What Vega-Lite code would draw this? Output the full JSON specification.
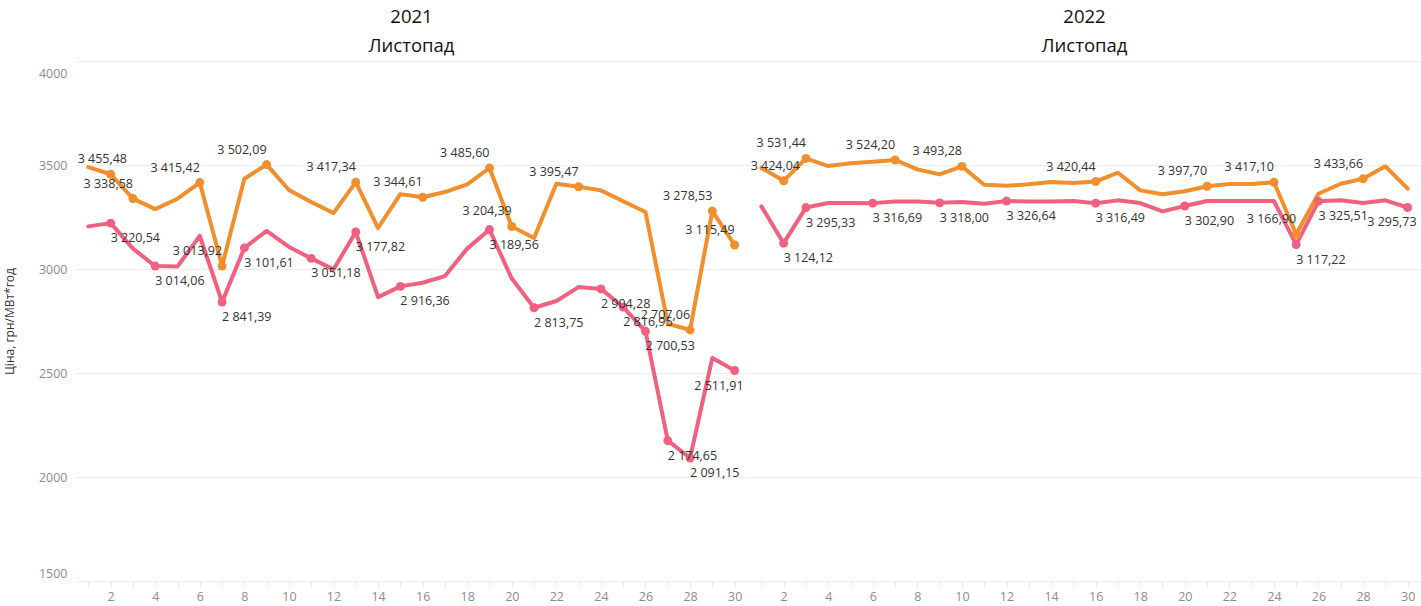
{
  "$schema": "https://vega.github.io/schema/vega-lite/v6.json",
  "padding": {"left": 3, "top": 7, "right": 0, "bottom": 0},
  "background": "white",
  "data": {"values": [
    {"year":"2021","day":1,"s":"B","v":3205,"m":false},
    {"year":"2021","day":2,"s":"B","v":3220.54,"m":true},
    {"year":"2021","day":3,"s":"B","v":3098,"m":false},
    {"year":"2021","day":4,"s":"B","v":3014.06,"m":true},
    {"year":"2021","day":5,"s":"B","v":3012,"m":false},
    {"year":"2021","day":6,"s":"B","v":3159,"m":false},
    {"year":"2021","day":7,"s":"B","v":2841.39,"m":true},
    {"year":"2021","day":8,"s":"B","v":3101.61,"m":true},
    {"year":"2021","day":9,"s":"B","v":3183,"m":false},
    {"year":"2021","day":10,"s":"B","v":3106,"m":false},
    {"year":"2021","day":11,"s":"B","v":3051.18,"m":true},
    {"year":"2021","day":12,"s":"B","v":2998,"m":false},
    {"year":"2021","day":13,"s":"B","v":3177.82,"m":true},
    {"year":"2021","day":14,"s":"B","v":2865,"m":false},
    {"year":"2021","day":15,"s":"B","v":2916.36,"m":true},
    {"year":"2021","day":16,"s":"B","v":2934,"m":false},
    {"year":"2021","day":17,"s":"B","v":2966,"m":false},
    {"year":"2021","day":18,"s":"B","v":3098,"m":false},
    {"year":"2021","day":19,"s":"B","v":3189.56,"m":true},
    {"year":"2021","day":20,"s":"B","v":2954,"m":false},
    {"year":"2021","day":21,"s":"B","v":2813.75,"m":true},
    {"year":"2021","day":22,"s":"B","v":2846,"m":false},
    {"year":"2021","day":23,"s":"B","v":2913,"m":false},
    {"year":"2021","day":24,"s":"B","v":2904.28,"m":true},
    {"year":"2021","day":25,"s":"B","v":2816.95,"m":true},
    {"year":"2021","day":26,"s":"B","v":2700.53,"m":true},
    {"year":"2021","day":27,"s":"B","v":2174.65,"m":true},
    {"year":"2021","day":28,"s":"B","v":2091.15,"m":true},
    {"year":"2021","day":29,"s":"B","v":2572,"m":false},
    {"year":"2021","day":30,"s":"B","v":2511.91,"m":true},
    {"year":"2022","day":1,"s":"B","v":3301,"m":false},
    {"year":"2022","day":2,"s":"B","v":3124.12,"m":true},
    {"year":"2022","day":3,"s":"B","v":3295.33,"m":true},
    {"year":"2022","day":4,"s":"B","v":3317,"m":false},
    {"year":"2022","day":5,"s":"B","v":3317,"m":false},
    {"year":"2022","day":6,"s":"B","v":3316.69,"m":true},
    {"year":"2022","day":7,"s":"B","v":3325,"m":false},
    {"year":"2022","day":8,"s":"B","v":3325,"m":false},
    {"year":"2022","day":9,"s":"B","v":3318.00,"m":true},
    {"year":"2022","day":10,"s":"B","v":3322,"m":false},
    {"year":"2022","day":11,"s":"B","v":3314,"m":false},
    {"year":"2022","day":12,"s":"B","v":3326.64,"m":true},
    {"year":"2022","day":13,"s":"B","v":3325,"m":false},
    {"year":"2022","day":14,"s":"B","v":3325,"m":false},
    {"year":"2022","day":15,"s":"B","v":3327,"m":false},
    {"year":"2022","day":16,"s":"B","v":3316.49,"m":true},
    {"year":"2022","day":17,"s":"B","v":3330,"m":false},
    {"year":"2022","day":18,"s":"B","v":3317,"m":false},
    {"year":"2022","day":19,"s":"B","v":3277,"m":false},
    {"year":"2022","day":20,"s":"B","v":3302.90,"m":true},
    {"year":"2022","day":21,"s":"B","v":3327,"m":false},
    {"year":"2022","day":22,"s":"B","v":3327,"m":false},
    {"year":"2022","day":23,"s":"B","v":3327,"m":false},
    {"year":"2022","day":24,"s":"B","v":3327,"m":false},
    {"year":"2022","day":25,"s":"B","v":3117.22,"m":true},
    {"year":"2022","day":26,"s":"B","v":3325.51,"m":true},
    {"year":"2022","day":27,"s":"B","v":3330,"m":false},
    {"year":"2022","day":28,"s":"B","v":3317,"m":false},
    {"year":"2022","day":29,"s":"B","v":3330,"m":false},
    {"year":"2022","day":30,"s":"B","v":3295.73,"m":true},
    {"year":"2021","day":1,"s":"A","v":3490,"m":false},
    {"year":"2021","day":2,"s":"A","v":3455.48,"m":true},
    {"year":"2021","day":3,"s":"A","v":3338.58,"m":true},
    {"year":"2021","day":4,"s":"A","v":3288,"m":false},
    {"year":"2021","day":5,"s":"A","v":3338,"m":false},
    {"year":"2021","day":6,"s":"A","v":3415.42,"m":true},
    {"year":"2021","day":7,"s":"A","v":3013.92,"m":true},
    {"year":"2021","day":8,"s":"A","v":3434,"m":false},
    {"year":"2021","day":9,"s":"A","v":3502.09,"m":true},
    {"year":"2021","day":10,"s":"A","v":3380,"m":false},
    {"year":"2021","day":11,"s":"A","v":3322,"m":false},
    {"year":"2021","day":12,"s":"A","v":3269,"m":false},
    {"year":"2021","day":13,"s":"A","v":3417.34,"m":true},
    {"year":"2021","day":14,"s":"A","v":3197,"m":false},
    {"year":"2021","day":15,"s":"A","v":3360,"m":false},
    {"year":"2021","day":16,"s":"A","v":3344.61,"m":true},
    {"year":"2021","day":17,"s":"A","v":3370,"m":false},
    {"year":"2021","day":18,"s":"A","v":3407,"m":false},
    {"year":"2021","day":19,"s":"A","v":3485.60,"m":true},
    {"year":"2021","day":20,"s":"A","v":3204.39,"m":true},
    {"year":"2021","day":21,"s":"A","v":3149,"m":false},
    {"year":"2021","day":22,"s":"A","v":3410,"m":false},
    {"year":"2021","day":23,"s":"A","v":3395.47,"m":true},
    {"year":"2021","day":24,"s":"A","v":3378,"m":false},
    {"year":"2021","day":25,"s":"A","v":3326,"m":false},
    {"year":"2021","day":26,"s":"A","v":3274,"m":false},
    {"year":"2021","day":27,"s":"A","v":2737,"m":false},
    {"year":"2021","day":28,"s":"A","v":2707.06,"m":true},
    {"year":"2021","day":29,"s":"A","v":3278.53,"m":true},
    {"year":"2021","day":30,"s":"A","v":3115.49,"m":true},
    {"year":"2022","day":1,"s":"A","v":3486,"m":false},
    {"year":"2022","day":2,"s":"A","v":3424.04,"m":true},
    {"year":"2022","day":3,"s":"A","v":3531.44,"m":true},
    {"year":"2022","day":4,"s":"A","v":3495,"m":false},
    {"year":"2022","day":5,"s":"A","v":3508,"m":false},
    {"year":"2022","day":6,"s":"A","v":3516,"m":false},
    {"year":"2022","day":7,"s":"A","v":3524.20,"m":true},
    {"year":"2022","day":8,"s":"A","v":3479,"m":false},
    {"year":"2022","day":9,"s":"A","v":3455,"m":false},
    {"year":"2022","day":10,"s":"A","v":3493.28,"m":true},
    {"year":"2022","day":11,"s":"A","v":3405,"m":false},
    {"year":"2022","day":12,"s":"A","v":3400,"m":false},
    {"year":"2022","day":13,"s":"A","v":3407,"m":false},
    {"year":"2022","day":14,"s":"A","v":3418,"m":false},
    {"year":"2022","day":15,"s":"A","v":3413,"m":false},
    {"year":"2022","day":16,"s":"A","v":3420.44,"m":true},
    {"year":"2022","day":17,"s":"A","v":3463,"m":false},
    {"year":"2022","day":18,"s":"A","v":3378,"m":false},
    {"year":"2022","day":19,"s":"A","v":3359,"m":false},
    {"year":"2022","day":20,"s":"A","v":3374,"m":false},
    {"year":"2022","day":21,"s":"A","v":3397.70,"m":true},
    {"year":"2022","day":22,"s":"A","v":3409,"m":false},
    {"year":"2022","day":23,"s":"A","v":3409,"m":false},
    {"year":"2022","day":24,"s":"A","v":3417.10,"m":true},
    {"year":"2022","day":25,"s":"A","v":3166.90,"m":true},
    {"year":"2022","day":26,"s":"A","v":3362,"m":false},
    {"year":"2022","day":27,"s":"A","v":3410,"m":false},
    {"year":"2022","day":28,"s":"A","v":3433.66,"m":true},
    {"year":"2022","day":29,"s":"A","v":3494,"m":false},
    {"year":"2022","day":30,"s":"A","v":3386,"m":false}
  ]},
  "facet": {
    "column": {
      "field": "year", "type": "nominal", "title": null,
      "header": {
        "labelExpr": "[datum.label, 'Листопад']",
        "labelFont": "Open Sans",
        "labelFontSize": 18.5,
        "labelColor": "#111111",
        "labelLineHeight": 29,
        "labelPadding": -13,
        "labelBaseline": "bottom"
      }
    }
  },
  "spacing": 0,
  "spec": {
    "width": 673,
    "height": 520,
    "encoding": {
      "x": {
        "field": "day", "type": "quantitative",
        "scale": {"domain": [0.4, 30.6], "nice": false, "zero": false},
        "axis": {
          "title": null,
          "values": [1,2,3,4,5,6,7,8,9,10,11,12,13,14,15,16,17,18,19,20,21,22,23,24,25,26,27,28,29,30],
          "labelExpr": "datum.value % 2 == 0 ? datum.label : ''",
          "grid": false,
          "domain": false,
          "ticks": true,
          "tickSize": 5,
          "tickColor": "#E6E6E6",
          "labelPadding": 4,
          "labelFont": "Open Sans",
          "labelFontSize": 12.5,
          "labelColor": "#8c8c8c"
        }
      },
      "y": {
        "field": "v", "type": "quantitative",
        "scale": {"domain": [1500, 4000], "nice": false, "zero": false},
        "axis": {
          "title": "Ціна, грн/МВт*год",
          "titleFont": "Open Sans",
          "titleFontSize": 12,
          "titleFontWeight": "normal",
          "titleColor": "#333333",
          "titlePadding": 22,
          "values": [1500, 2000, 2500, 3000, 3500, 4000],
          "format": "d",
          "grid": true,
          "gridColor": "#EDEDED",
          "domain": false,
          "ticks": false,
          "labelFlush": false,
          "labelOffset": {"condition": [{"test": "datum.value == 4000", "value": 12}, {"test": "datum.value == 1500", "value": -8}], "value": 0},
          "labelPadding": 8,
          "labelFont": "Open Sans",
          "labelFontSize": 12.5,
          "labelColor": "#8c8c8c"
        }
      },
      "color": {
        "field": "s", "type": "nominal", "legend": null,
        "scale": {"domain": ["A", "B"], "range": ["#F28E2B", "#F1617F"]}
      }
    },
    "layer": [
      {"mark": {"type": "line", "strokeWidth": 4, "strokeJoin": "round", "strokeCap": "round"}},
      {"transform": [{"filter": "datum.m"}],
       "mark": {"type": "point", "filled": true, "opacity": 1, "size": 80}},
      {"transform": [{"filter": "datum.m && datum.s == 'A' && datum.day != 2"}],
       "mark": {"type": "text", "align": "right", "baseline": "middle", "dy": -15, "font": "Open Sans", "fontSize": 12.5, "color": "#333333"},
       "encoding": {"text": {"field": "v", "type": "quantitative", "format": ",.2f"}, "color": {"value": "#333333"}}},
      {"transform": [{"filter": "datum.m && datum.s == 'A' && datum.day == 2"}],
       "mark": {"type": "text", "align": "left", "baseline": "middle", "dy": -15, "dx": -33, "font": "Open Sans", "fontSize": 12.5, "color": "#333333"},
       "encoding": {"text": {"field": "v", "type": "quantitative", "format": ",.2f"}, "color": {"value": "#333333"}}},
      {"transform": [{"filter": "datum.m && datum.s == 'B' && datum.day != 30"}],
       "mark": {"type": "text", "align": "left", "baseline": "middle", "dy": 15, "font": "Open Sans", "fontSize": 12.5, "color": "#333333"},
       "encoding": {"text": {"field": "v", "type": "quantitative", "format": ",.2f"}, "color": {"value": "#333333"}}},
      {"transform": [{"filter": "datum.m && datum.s == 'B' && datum.day == 30"}],
       "mark": {"type": "text", "align": "right", "baseline": "middle", "dy": 15, "dx": 9, "font": "Open Sans", "fontSize": 12.5, "color": "#333333"},
       "encoding": {"text": {"field": "v", "type": "quantitative", "format": ",.2f"}, "color": {"value": "#333333"}}}
    ]
  },
  "config": {
    "locale": {"number": {"decimal": ",", "thousands": " ", "grouping": [3], "currency": ["", ""]}},
    "view": {"stroke": null},
    "font": "Open Sans"
  }
}
